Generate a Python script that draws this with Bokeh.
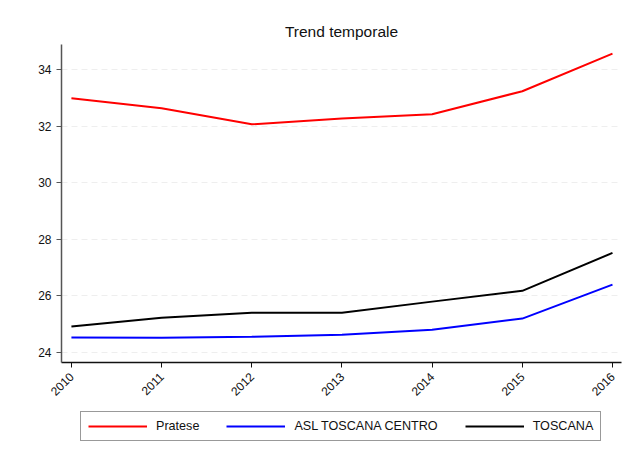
from bokeh.plotting import figure
from bokeh.models import Range1d, FixedTicker, Legend, LegendItem
from bokeh.layouts import column
from bokeh.embed import file_html
from bokeh.resources import INLINE
import math

years = [2010, 2011, 2012, 2013, 2014, 2015, 2016]
pratese = [32.98, 32.63, 32.06, 32.27, 32.42, 33.23, 34.56]
asl_centro = [24.53, 24.52, 24.56, 24.63, 24.81, 25.20, 26.40]
toscana = [24.92, 25.23, 25.41, 25.41, 25.80, 26.18, 27.52]
y_ticks = [24, 26, 28, 30, 32, 34]
series_names = ["Pratese", "ASL TOSCANA CENTRO", "TOSCANA"]
colors = ["#ff0000", "#0000ff", "#000000"]

FONT = "Liberation Sans"
Y0, Y1 = 23.65, 34.88

p = figure(width=636, height=402, output_backend="svg", toolbar_location=None,
           x_range=Range1d(2009.89, 2016.1), y_range=Range1d(Y0, Y1),
           min_border_left=61, min_border_right=15, min_border_top=44, min_border_bottom=39)
p.outline_line_color = None
p.background_fill_color = "white"
p.border_fill_color = "white"

p.title.text = "Trend temporale"
p.title.align = "center"
p.title.text_font = FONT
p.title.text_font_size = "15.5px"
p.title.text_font_style = "normal"
p.title.text_color = "#111111"

for ys, c in zip([pratese, asl_centro, toscana], colors):
    p.line(years, ys, line_color=c, line_width=2)

p.xgrid.visible = False
p.ygrid.ticker = FixedTicker(ticks=y_ticks)
p.ygrid.grid_line_color = "#eeeeee"
p.ygrid.grid_line_dash = "6 4"
p.ygrid.grid_line_width = 1

p.yaxis.ticker = FixedTicker(ticks=y_ticks)
p.xaxis.ticker = FixedTicker(ticks=years)
for ax in [p.xaxis[0], p.yaxis[0]]:
    ax.major_label_text_font = FONT
    ax.major_label_text_font_size = "12px"
    ax.major_label_text_color = "#111111"
    ax.minor_tick_line_color = None
    ax.major_tick_out = 5
    ax.major_tick_in = 0
    ax.axis_line_width = 1.5
p.yaxis.axis_line_color = "#555555"
p.yaxis.major_tick_line_color = "#555555"
p.xaxis.axis_line_color = "#111111"
p.xaxis.major_tick_line_color = "#111111"
p.xaxis.major_label_orientation = math.pi / 4
p.xaxis.major_label_standoff = 7

# legend strip below the chart (its frame is aligned with the chart's frame)
lg = figure(width=636, height=56, output_backend="svg", toolbar_location=None,
            x_range=Range1d(0, 1), y_range=Range1d(0, 1),
            min_border_left=61, min_border_right=15, min_border_top=0, min_border_bottom=0)
lg.axis.visible = False
lg.grid.visible = False
lg.outline_line_color = None
lg.background_fill_color = "white"
lg.border_fill_color = "white"
# legend-only swatches, kept outside the visible range
leg_renderers = [lg.line(x=[5, 6], y=[5, 5], line_color=c, line_width=2) for c in colors]

legend = Legend(items=[LegendItem(label=n, renderers=[r]) for n, r in zip(series_names, leg_renderers)],
                orientation="horizontal", location=(19, 17))
legend.glyph_width = 59
legend.glyph_height = 14
legend.label_standoff = 9
legend.spacing = 27
legend.padding = 7
legend.margin = 0
legend.label_text_font = FONT
legend.label_text_font_size = "12.6px"
legend.label_text_color = "#111111"
legend.border_line_color = "#333333"
legend.border_line_width = 1.5
legend.background_fill_color = "white"
lg.add_layout(legend, "center")

layout = column(p, lg, spacing=0)
open("out.html", "w").write(file_html(layout, INLINE))
